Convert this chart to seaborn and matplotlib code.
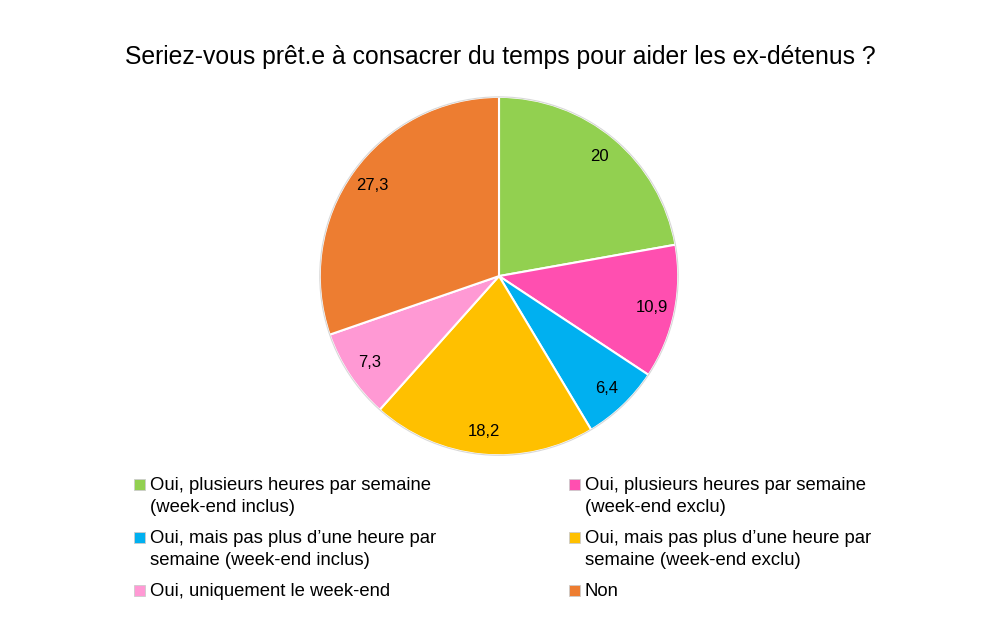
import matplotlib.pyplot as plt
import matplotlib.patches as mpatches
import seaborn as sns

# data (slices clockwise from the top)
labels = ['Oui, plusieurs heures par semaine\n(week-end inclus)',
          'Oui, plusieurs heures par semaine\n(week-end exclu)',
          'Oui, mais pas plus d\u2019une heure par\nsemaine (week-end inclus)',
          'Oui, mais pas plus d\u2019une heure par\nsemaine (week-end exclu)',
          'Oui, uniquement le week-end',
          'Non']
values = [20, 10.9, 6.4, 18.2, 7.3, 27.3]
colors = ['#92D050', '#FF4FB0', '#00B0F0', '#FFC000', '#FF99D4', '#ED7D31']
title = 'Seriez-vous prêt.e à consacrer du temps pour aider les ex-détenus ?'

sns.set_style("white")
plt.rcParams['font.family'] = ['Liberation Sans', 'DejaVu Sans']
plt.rcParams['text.color'] = 'black'

W, H = 1000, 642
fig = plt.figure(figsize=(10, 6.42), dpi=100)
ax = fig.add_axes([0.318, 0.288, 0.362, 0.5639])

wedges, texts = ax.pie(values, colors=colors, startangle=90, counterclock=False,
                       labels=[f'{v:g}'.replace('.', ',') for v in values],
                       labeldistance=0.87,
                       wedgeprops=dict(edgecolor='white', linewidth=1.5),
                       textprops=dict(fontsize=12, color='black', ha='center', va='center'))
# faint outer ring
ax.add_patch(mpatches.Circle((0, 0), 1.0, fill=False, edgecolor='#d8d8d8', linewidth=0.8))
ax.set_xlim(-1.01, 1.01)
ax.set_ylim(-1.01, 1.01)
ax.set_aspect('equal')
ax.axis('off')

fig.text(0.5, 1 - 57 / H, title, ha='center', va='center', fontsize=17.8, color='black')

# legend laid out by hand: two columns, marker level with the first line of each entry
col_x = [139, 574]        # marker centres (px)
row_y = [484, 537, 590]   # first-line centres (px)
box = 11
for i, lab in enumerate(labels):
    cx = col_x[i % 2]
    cy = row_y[i // 2]
    fig.patches.append(mpatches.Rectangle(((cx - box / 2) / W, 1 - (cy + box / 2) / H),
                                          box / W, box / H, transform=fig.transFigure,
                                          facecolor=colors[i], edgecolor='#cccccc',
                                          linewidth=0.6))
    fig.text((cx + 11) / W, 1 - (cy - 7) / H, lab, ha='left', va='top',
             fontsize=13.3, linespacing=1.38, color='black')

fig.savefig('out.png', dpi=100, facecolor='white')
